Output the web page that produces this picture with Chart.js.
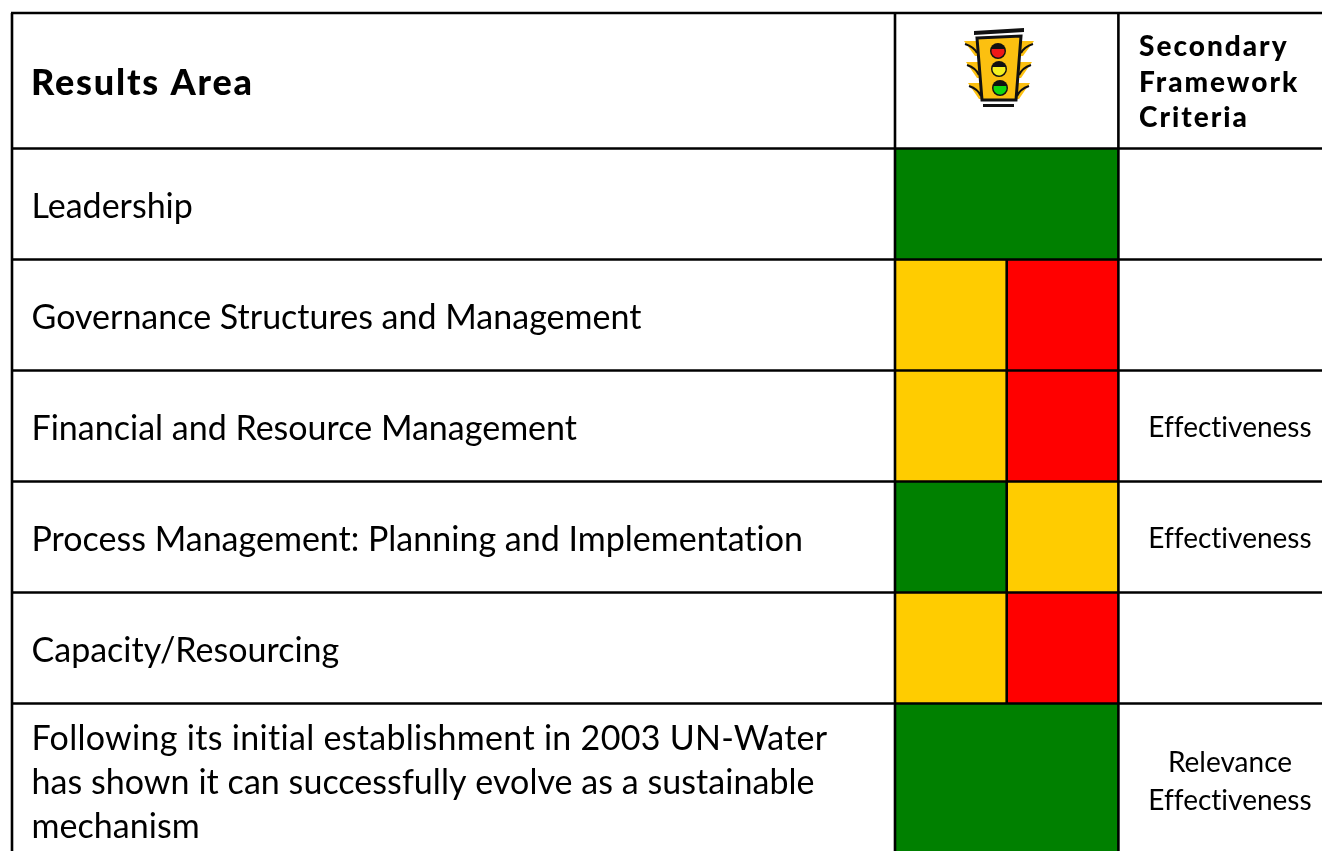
<!DOCTYPE html>
<html>
<head>
<meta charset="utf-8">
<title>Results Area</title>
<script src="https://cdn.jsdelivr.net/npm/chart.js@4"></script>
<style>
    html, body { margin: 0; padding: 0; background: #fff; overflow: hidden; }
    canvas { display: block; }
</style>
</head>
<body>
<canvas id="chart" width="1322" height="851"></canvas>
<script>
// table content
const headerArea = 'Results Area';
const headerCriteria = ['Secondary', 'Framework', 'Criteria'];
const areas = [
    ['Leadership'],
    ['Governance Structures and Management'],
    ['Financial and Resource Management'],
    ['Process Management: Planning and Implementation'],
    ['Capacity/Resourcing'],
    ['Following its initial establishment in 2003 UN-Water', 'has shown it can successfully evolve as a sustainable', 'mechanism']
];
const criteria = [[], [], ['Effectiveness'], ['Effectiveness'], [], ['Relevance', 'Effectiveness']];

// traffic light rating of each row, two halves per cell
const ratingLeft = ['green', 'amber', 'amber', 'green', 'amber', 'green'];
const ratingRight = ['green', 'red', 'red', 'amber', 'red', 'green'];
// height of each row, in rows (the last one runs off the page)
const rowSpans = [1, 1, 1, 1, 1, 1.33];
const halves = ['left', 'right'];

const ratingColors = { green: '#008000', amber: '#ffcc00', red: '#ff0000' };
const FONT = 'Lato, "Noto Sans", sans-serif';

// draws the ruling, the texts and the little traffic light
const tablePlugin = {
    id: 'table',
    afterDatasetsDraw(chart) {
        const ctx = chart.ctx;
        const y = chart.scales.y;
        const area = chart.chartArea;
        const W = chart.width, H = chart.height;
        const tableLeft = 12, tableTop = 13;

        let edges = [0];
        rowSpans.forEach(s => edges.push(edges[edges.length - 1] + s));
        const px = edges.map(v => Math.round(y.getPixelForValue(v)) - 0.5);
        const mid = Math.round((area.left + area.right) / 2) - 0.3;

        ctx.save();
        ctx.strokeStyle = '#000';
        ctx.lineWidth = 2.6;
        const line = (x1, y1, x2, y2) => {
            ctx.beginPath();
            ctx.moveTo(x1, y1);
            ctx.lineTo(x2, y2);
            ctx.stroke();
        };
        line(tableLeft - 1, tableTop, W, tableTop);
        px.slice(0, -1).forEach(p => line(tableLeft, p, W, p));
        line(tableLeft, tableTop, tableLeft, H);
        line(area.left, tableTop, area.left, H);
        line(area.right - 0.6, tableTop, area.right - 0.6, H);
        // divider only where the two halves differ
        areas.forEach((a, i) => {
            if (ratingLeft[i] !== ratingRight[i]) line(mid, px[i], mid, px[i + 1]);
        });

        // texts
        ctx.fillStyle = '#000';
        ctx.textBaseline = 'middle';
        ctx.textAlign = 'left';
        ctx.letterSpacing = '1.8px';
        ctx.font = '900 36px ' + FONT;
        ctx.fillText(headerArea, 31, 83);
        ctx.letterSpacing = '2px';
        ctx.font = '900 28px ' + FONT;
        headerCriteria.forEach((t, i) => ctx.fillText(t, 1139, 47 + i * 35.5));

        ctx.letterSpacing = '0.01px'; // also keeps the ti ligature off
        ctx.font = '34px ' + FONT;
        areas.forEach((lines, i) => {
            if (lines.length === 1) {
                ctx.fillText(lines[0], 31.5, (px[i] + px[i + 1]) / 2 + 3);
            } else {
                lines.forEach((t, j) => {
                    ctx.letterSpacing = j === 0 ? '0.3px' : '0.05px';
                    ctx.fillText(t, 31.5, px[i] + 36 + j * 44);
                });
            }
        });

        ctx.letterSpacing = '0.01px';
        ctx.textAlign = 'center';
        ctx.font = '28px ' + FONT;
        criteria.forEach((lines, i) => {
            if (lines.length === 1) {
                ctx.fillText(lines[0], 1230, (px[i] + px[i + 1]) / 2 + 2);
            } else {
                lines.forEach((t, j) => ctx.fillText(t, 1230, px[i] + 59 + j * 38));
            }
        });
        ctx.letterSpacing = '0px';

        drawLight(ctx);
        ctx.restore();
    }
};

function drawLight(ctx) {
    const poly = (pts, fill) => {
        ctx.beginPath();
        pts.forEach((p, i) => i ? ctx.lineTo(p[0], p[1]) : ctx.moveTo(p[0], p[1]));
        ctx.closePath();
        ctx.fillStyle = fill;
        ctx.fill();
    };
    // side visors
    [[41, 56], [62, 78], [83, 99]].forEach((v, i) => {
        const dx = i * 2;
        poly([[964 + dx, v[0]], [981, v[0]], [983, v[1]], [975 + dx, v[1]]], '#fcc010');
        poly([[1034 - dx, v[0]], [1017, v[0]], [1015, v[1]], [1023 - dx, v[1]]], '#fcc010');
        ctx.strokeStyle = '#111';
        ctx.lineWidth = 2;
        ctx.beginPath();
        ctx.moveTo(965 + dx, v[0] + 3);
        ctx.quadraticCurveTo(974 + dx, v[0] + 6, 977 + dx, v[1] - 3);
        ctx.moveTo(1033 - dx, v[0] + 3);
        ctx.quadraticCurveTo(1024 - dx, v[0] + 6, 1021 - dx, v[1] - 3);
        ctx.stroke();
    });
    // body
    poly([[977, 38], [1021, 36], [1016, 100], [982, 100]], '#fcc010');
    ctx.strokeStyle = '#111';
    ctx.lineWidth = 3;
    ctx.stroke();
    // top and bottom bars
    poly([[974, 31], [1024, 28], [1024, 32], [974, 35]], '#111');
    poly([[983, 104], [1014, 104], [1014, 107], [983, 107]], '#111');
    // lamps, dark on top with the colour in the lower half
    [[998, 51, '#f01818'], [999, 69, '#f4f020'], [1000, 88, '#10d810']].forEach(l => {
        ctx.beginPath();
        ctx.arc(l[0], l[1], 8, 0, Math.PI * 2);
        ctx.fillStyle = '#111';
        ctx.fill();
        ctx.beginPath();
        ctx.arc(l[0], l[1], 6.5, -0.3, Math.PI + 0.3);
        ctx.closePath();
        ctx.fillStyle = l[2];
        ctx.fill();
    });
}

new Chart(document.getElementById('chart'), {
    type: 'bar',
    data: {
        labels: halves,
        datasets: areas.map((a, i) => ({
            label: a.join(' '),
            data: [rowSpans[i], rowSpans[i]],
            backgroundColor: [ratingColors[ratingLeft[i]], ratingColors[ratingRight[i]]],
            borderWidth: 0,
            barPercentage: 1,
            categoryPercentage: 1
        }))
    },
    options: {
        responsive: false,
        animation: false,
        layout: { padding: { left: 895, right: 203, top: 149, bottom: 0 } },
        plugins: { legend: { display: false }, tooltip: { enabled: false } },
        scales: {
            x: { display: false, stacked: true },
            y: {
                display: false,
                stacked: true,
                reverse: true,
                min: 0,
                max: rowSpans.reduce((a, b) => a + b, 0)
            }
        }
    },
    plugins: [tablePlugin]
});
</script>
</body>
</html>
